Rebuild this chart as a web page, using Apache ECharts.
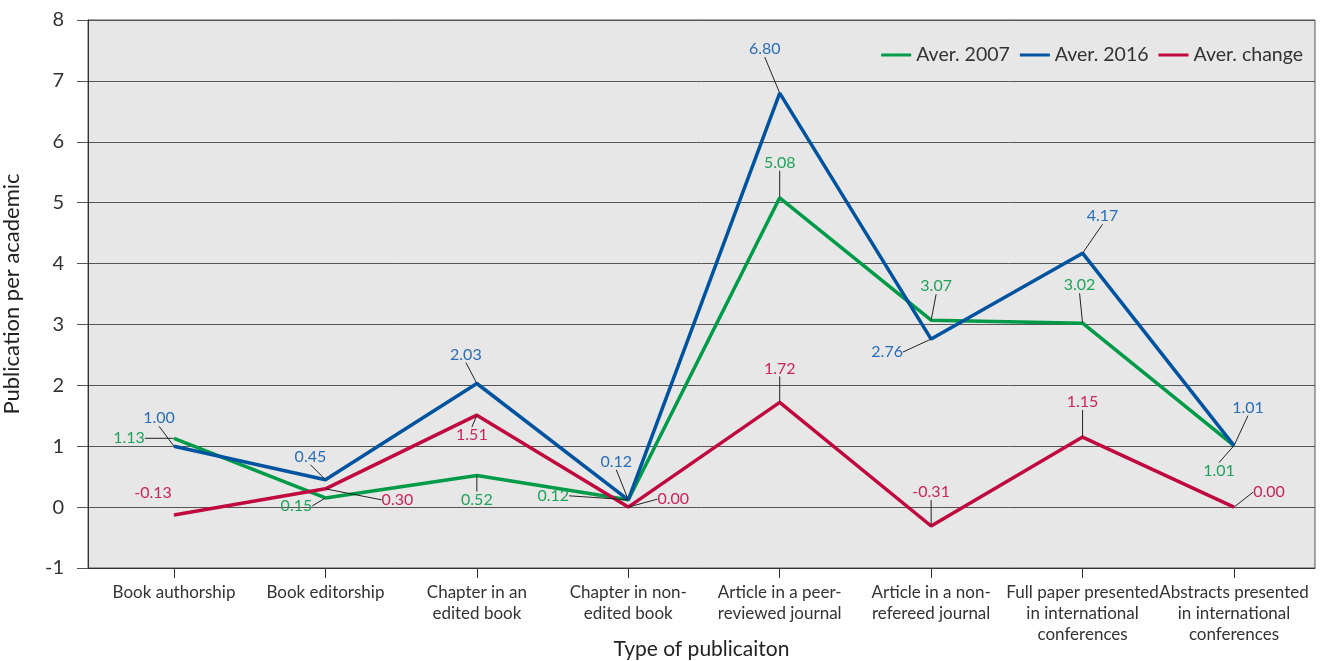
<!DOCTYPE html>
<html>

<head>
  <meta charset="utf-8">
  <title>Publication per academic</title>
  <script src="https://cdn.jsdelivr.net/npm/echarts@6/dist/echarts.min.js"></script>
  <style>
    html, body { margin: 0; padding: 0; background: #fff; }
    #chart { width: 1324px; height: 661px; }
  </style>
</head>

<body>
  <div id="chart"></div>
  <script>
    // categories (line breaks as in the original axis labels)
    const categories = [
      'Book authorship',
      'Book editorship',
      'Chapter in an\nedited book',
      'Chapter in non-\nedited book',
      'Article in a peer-\nreviewed journal',
      'Article in a non-\nrefereed journal',
      'Full paper presented\nin international\nconferences',
      'Abstracts presented\nin international\nconferences'
    ];
    const aver2007 = [1.13, 0.15, 0.52, 0.12, 5.08, 3.07, 3.02, 1.01];
    const aver2016 = [1.00, 0.45, 2.03, 0.12, 6.80, 2.76, 4.17, 1.01];
    const averChange = [-0.13, 0.30, 1.51, 0.00, 1.72, -0.31, 1.15, 0.00];
    const yTicks = { min: -1, max: 8, interval: 1 };

    // where each value label sits relative to its point (px), [dx, dy]
    const shift2007 = [[-45, 0], [-29, 8], [0, 24], [-75, -4], [0, -35], [5, -34], [-3, -38], [-15, 25]];
    const shift2016 = [[-15, -28], [-15, -23], [-11, -29], [-12, -38], [-15, -44], [-44, 13], [20, -37], [14, -38]];
    const shiftChange = [[-21, -22], [72, 11], [-5, 20], [45, -8], [0, -34], [0, -34], [0, -35], [35, -15]];

    const FONT = 'Lato, "Open Sans", sans-serif';

    function makeSeries(name, values, shifts, lineColor, labelColor, noLine) {
      return {
        name: name,
        type: 'line',
        xAxisIndex: 1,
        yAxisIndex: 1,
        data: values.map(function (v, i) {
          let item = { value: v };
          if (noLine && noLine.indexOf(i) >= 0) item.labelLine = { show: false };
          return item;
        }),
        symbol: 'circle',
        symbolSize: 1,
        showSymbol: true,
        lineStyle: { color: lineColor, width: 3.5 },
        itemStyle: { color: lineColor },
        label: {
          show: true,
          position: 'inside',
          color: labelColor,
          fontSize: 16,
          fontFamily: FONT,
          formatter: function (p) { return p.value.toFixed(2); }
        },
        labelLine: {
          show: true,
          length2: 0,
          lineStyle: { color: '#222', width: 1 }
        },
        labelLayout: function (p) {
          let s = shifts[p.dataIndex];
          return {
            x: p.rect.x + p.rect.width / 2 + s[0],
            y: p.rect.y + p.rect.height / 2 + s[1],
            align: 'center',
            verticalAlign: 'middle'
          };
        },
        emphasis: { disabled: true }
      };
    }

    let myChart = echarts.init(document.getElementById('chart'));
    let option = {
      animation: false,
      backgroundColor: '#fff',
      textStyle: { fontFamily: FONT },
      legend: {
        right: 16,
        top: 40,
        icon: 'rect',
        itemWidth: 30,
        itemHeight: 3,
        itemGap: 10,
        textStyle: { fontSize: 19.5, color: '#333', fontFamily: FONT },
        data: ['Aver. 2007', 'Aver. 2016', 'Aver. change']
      },
      grid: [
        {
          left: 88, right: 9, top: 20, bottom: 93,
          outerBoundsMode: 'none', containLabel: false,
          show: true, backgroundColor: '#e7e7e7', borderColor: '#555', borderWidth: 1
        },
        { left: 174, right: 90, top: 20, bottom: 93, outerBoundsMode: 'none', containLabel: false }
      ],
      xAxis: [
        {
          gridIndex: 0,
          type: 'value',
          min: 0, max: 1,
          axisLine: { show: true, onZero: false, lineStyle: { color: '#333', width: 1 } },
          axisTick: { show: false },
          axisLabel: { show: false },
          splitLine: { show: false },
          name: 'Type of publicaiton',
          nameLocation: 'middle',
          nameGap: 71,
          nameTextStyle: { fontSize: 21, color: '#222', fontFamily: FONT }
        },
        {
          gridIndex: 1,
          type: 'category',
          boundaryGap: false,
          data: categories,
          axisLine: { show: false, onZero: false },
          axisTick: { show: true, length: 10, lineStyle: { color: '#333' } },
          axisLabel: {
            interval: 0, margin: 14, fontSize: 17, lineHeight: 21,
            color: '#333', fontFamily: FONT, align: 'center'
          },
          splitLine: { show: false }
        }
      ],
      yAxis: [
        {
          gridIndex: 0,
          type: 'value',
          min: yTicks.min, max: yTicks.max, interval: yTicks.interval,
          axisLine: { show: true, lineStyle: { color: '#333', width: 1 } },
          axisTick: { show: true, length: 11, lineStyle: { color: '#555' } },
          axisLabel: { margin: 24, fontSize: 20, color: '#333', fontFamily: FONT },
          splitLine: { show: true, lineStyle: { color: '#555', width: 1 } },
          name: 'Publication per academic',
          nameLocation: 'middle',
          nameGap: 65,
          nameTextStyle: { fontSize: 22, color: '#222', fontFamily: FONT }
        },
        {
          gridIndex: 1,
          type: 'value',
          min: yTicks.min, max: yTicks.max, interval: yTicks.interval,
          show: false
        }
      ],
      series: [
        makeSeries('Aver. 2007', aver2007, shift2007, '#009b48', '#1fa35a'),
        makeSeries('Aver. 2016', aver2016, shift2016, '#00539f', '#2a6db5'),
        makeSeries('Aver. change', averChange, shiftChange, '#c00a3f', '#c8255a', [0])
      ]
    };
    myChart.setOption(option);
  </script>
</body>

</html>
